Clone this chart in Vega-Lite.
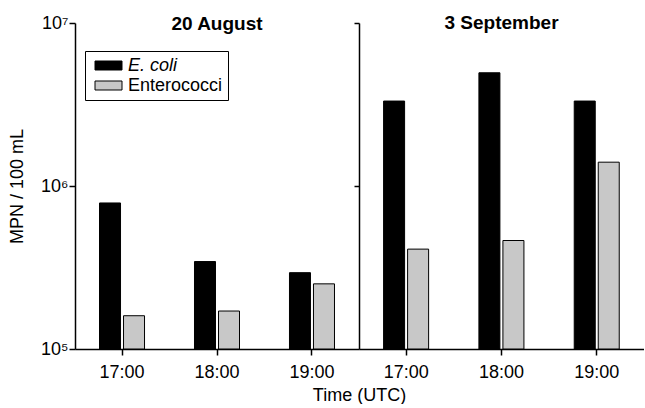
{
  "$schema": "https://vega.github.io/schema/vega-lite/v6.json",
  "padding": {"left": 8, "top": 14, "right": 0, "bottom": 0},
  "bounds": "flush",
  "spacing": 0,
  "data": {
    "values": [
      {"date": "20 August", "time": "17:00", "species": "E. coli", "mpn": 787000},
      {"date": "20 August", "time": "17:00", "species": "Enterococci", "mpn": 160000},
      {"date": "20 August", "time": "18:00", "species": "E. coli", "mpn": 344000},
      {"date": "20 August", "time": "18:00", "species": "Enterococci", "mpn": 171000},
      {"date": "20 August", "time": "19:00", "species": "E. coli", "mpn": 294000},
      {"date": "20 August", "time": "19:00", "species": "Enterococci", "mpn": 251000},
      {"date": "3 September", "time": "17:00", "species": "E. coli", "mpn": 3320000},
      {"date": "3 September", "time": "17:00", "species": "Enterococci", "mpn": 410000},
      {"date": "3 September", "time": "18:00", "species": "E. coli", "mpn": 4950000},
      {"date": "3 September", "time": "18:00", "species": "Enterococci", "mpn": 463000},
      {"date": "3 September", "time": "19:00", "species": "E. coli", "mpn": 3320000},
      {"date": "3 September", "time": "19:00", "species": "Enterococci", "mpn": 1400000}
    ]
  },
  "hconcat": [
    {
      "width": 284,
      "height": 326,
      "title": {"text": "20 August", "fontSize": 19, "fontWeight": "bold", "anchor": "middle", "frame": "group", "baseline": "alphabetic", "offset": -35},
      "transform": [{"filter": "datum.date == '20 August'"}],
      "mark": {"type": "bar", "stroke": "black", "strokeWidth": 1},
      "encoding": {
        "x": {
          "field": "time", "type": "nominal",
          "scale": {"paddingInner": 0.526, "paddingOuter": 0.258},
          "axis": {"title": "Time (UTC)", "titleX": 284, "labelAngle": 0}
        },
        "xOffset": {"field": "species", "type": "nominal", "scale": {"paddingInner": 0.125}},
        "y": {
          "field": "mpn", "type": "quantitative", "stack": null,
          "scale": {"type": "log", "domain": [100000, 10000000], "nice": false},
          "axis": {
            "title": "MPN / 100 mL",
            "values": [100000, 1000000, 10000000],
            "labelExpr": "datum.value < 500000 ? '10⁵' : datum.value < 5000000 ? '10⁶' : '10⁷'",
            "labelPadding": 1,
            "titlePadding": 14
          }
        },
        "y2": {"datum": 100000},
        "color": {
          "field": "species", "type": "nominal",
          "scale": {"domain": ["E. coli", "Enterococci"], "range": ["#000000", "#c8c8c8"]},
          "legend": {
            "title": null,
            "orient": "none",
            "legendX": 10,
            "legendY": 28,
            "strokeColor": "black",
            "fillColor": "white",
            "padding": 5,
            "symbolType": "M-1.5,-0.5H1.5V0.5H-1.5Z",
            "symbolSize": 324,
            "symbolStrokeColor": "black",
            "symbolStrokeWidth": 1,
            "symbolOpacity": 1,
            "symbolOffset": 9,
            "labelFontSize": 18,
            "labelColor": "black",
            "labelOffset": 10,
            "rowPadding": 1,
            "labelFontStyle": {"expr": "datum.label == 'E. coli' ? 'italic' : 'normal'"}
          }
        }
      }
    },
    {
      "width": 285,
      "height": 326,
      "title": {"text": "3 September", "fontSize": 19, "fontWeight": "bold", "anchor": "middle", "frame": "group", "baseline": "alphabetic", "offset": -26},
      "transform": [{"filter": "datum.date == '3 September'"}],
      "mark": {"type": "bar", "stroke": "black", "strokeWidth": 1},
      "encoding": {
        "x": {
          "field": "time", "type": "nominal",
          "scale": {"paddingInner": 0.526, "paddingOuter": 0.258},
          "axis": {"title": null, "labelAngle": 0}
        },
        "xOffset": {"field": "species", "type": "nominal", "scale": {"paddingInner": 0.125}},
        "y": {
          "field": "mpn", "type": "quantitative", "stack": null,
          "scale": {"type": "log", "domain": [100000, 10000000], "nice": false},
          "axis": {"title": null, "labels": false, "values": [1000000, 10000000], "tickSize": 5}
        },
        "y2": {"datum": 100000},
        "color": {
          "field": "species", "type": "nominal",
          "scale": {"domain": ["E. coli", "Enterococci"], "range": ["#000000", "#c8c8c8"]},
          "legend": null
        }
      }
    }
  ],
  "resolve": {
    "scale": {"x": "independent", "y": "independent", "color": "independent"},
    "legend": {"color": "independent"}
  },
  "config": {
    "font": "Liberation Sans",
    "view": {"stroke": null},
    "title": {"color": "black", "font": "Liberation Sans"},
    "axis": {
      "grid": false,
      "labelFont": "Liberation Sans",
      "titleFont": "Liberation Sans",
      "labelFontSize": 18,
      "titleFontSize": 18,
      "titleFontWeight": "normal",
      "labelColor": "black",
      "titleColor": "black",
      "domainColor": "black",
      "tickColor": "black",
      "domainWidth": 1.5,
      "tickWidth": 1.5,
      "tickSize": 6
    },
    "axisX": {"labelPadding": 8, "titlePadding": 5},
    "legend": {"labelFont": "Liberation Sans"}
  }
}
